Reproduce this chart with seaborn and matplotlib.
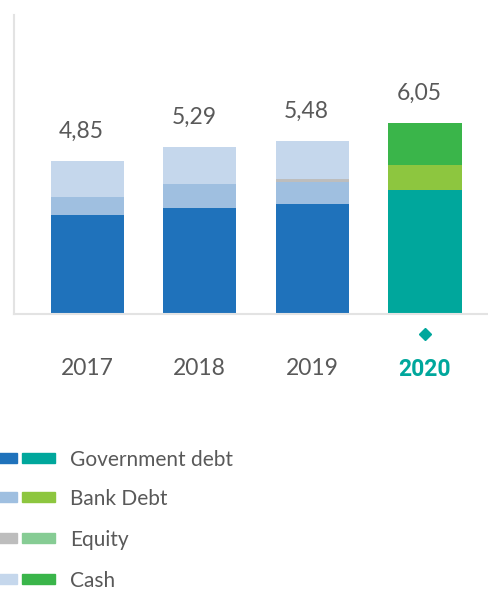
import pandas as pd
import matplotlib.pyplot as plt
import seaborn as sns
from matplotlib.patches import Rectangle

# Values
years = ['2017', '2018', '2019', '2020']
gov_debt = [3.12, 3.35, 3.48, 3.93]
bank_debt = [0.57, 0.76, 0.70, 0.77]
equity = [0.00, 0.00, 0.09, 0.00]
cash = [1.16, 1.18, 1.21, 1.35]
totals = ['4,85', '5,29', '5,48', '6,05']
series_names = ['Government debt', 'Bank Debt', 'Equity', 'Cash']

# colours: past years in blues, 2020 in greens
past_colors = ['#1f72bb', '#9fbfe0', '#bdbdbd', '#c5d7ec']
new_colors = ['#00a79c', '#8dc63f', '#86cc94', '#3ab54a']
text_color = '#595959'

sns.set_style('white')
plt.rcParams['font.family'] = ['Lato', 'DejaVu Sans']

df = pd.DataFrame({'year': years, 'gov': gov_debt, 'bank': bank_debt,
                   'equity': equity, 'cash': cash})
layers = ['gov', 'bank', 'equity', 'cash']
cum = df[layers].cumsum(axis=1)

fig = plt.figure(figsize=(4.88, 5.9), dpi=100)
ax = fig.add_axes([14 / 488, 1 - 314 / 590, (488 - 14) / 488, (314 - 15) / 590])

# draw cumulative totals from top layer down so they stack
for k in range(len(layers) - 1, -1, -1):
    pal = {y: (new_colors[k] if y == '2020' else past_colors[k]) for y in years}
    sns.barplot(x=df['year'], y=cum[layers[k]], hue=df['year'], palette=pal,
                dodge=False, width=0.65, legend=False, ax=ax, saturation=1,
                linewidth=0, edgecolor='none')

ax.set_xlim(-0.65, 3.56)
ax.set_ylim(0, 9.45)
ax.set_xlabel('')
ax.set_ylabel('')
ax.set_yticks([])

for sp in ['top', 'right']:
    ax.spines[sp].set_visible(False)
for sp in ['left', 'bottom']:
    ax.spines[sp].set_color('#e3e3e3')
    ax.spines[sp].set_linewidth(1.5)

ax.tick_params(axis='x', length=0, pad=32)
ax.set_xticks(range(len(years)))
ax.set_xticklabels(years, fontsize=16.5, color=text_color)
lab = ax.get_xticklabels()[-1]
lab.set_color('#00a79c')
lab.set_family(['Roboto', 'DejaVu Sans'])
lab.set_fontweight('bold')

# total labels
tot_vals = cum['cash'].tolist()
for i, t in enumerate(totals):
    ax.text(i - 0.05, tot_vals[i] + 0.72, t, ha='center', va='baseline',
            fontsize=16.5, color=text_color)

# diamond marker under the current year
ax.plot([3], [-0.64], marker='D', markersize=6, color='#00a79c',
        clip_on=False, linestyle='none')

# legend drawn in figure pixels
row_y = [458, 497, 538, 579]
for r, name in enumerate(series_names):
    yc = 1 - row_y[r] / 590
    h = 10 / 590
    fig.patches.append(Rectangle((-16 / 488, yc - h / 2), 33 / 488, h,
                                 transform=fig.transFigure, color=past_colors[r]))
    fig.patches.append(Rectangle((22 / 488, yc - h / 2), 33 / 488, h,
                                 transform=fig.transFigure, color=new_colors[r]))
    fig.text(70 / 488, yc, name, ha='left', va='center_baseline',
             fontsize=15, color=text_color)

fig.savefig('out.png', dpi=100)
